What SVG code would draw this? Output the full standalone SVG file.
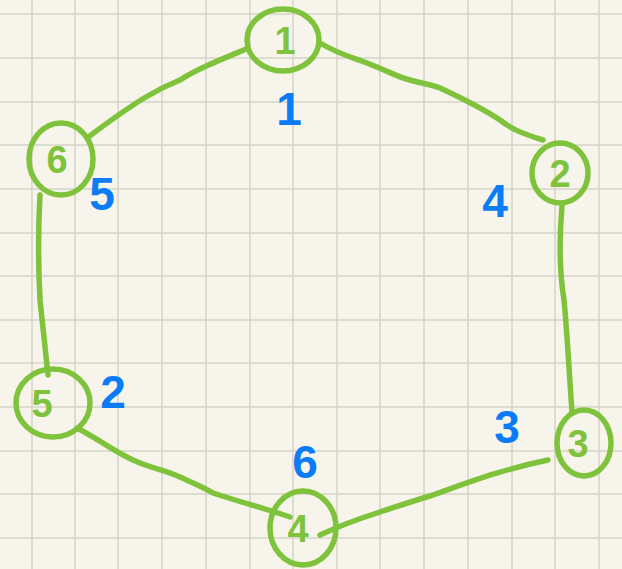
<svg xmlns="http://www.w3.org/2000/svg" width="622" height="569" viewBox="0 0 622 569">
<defs>
<style>
.grid line{stroke:#d5d3c8;stroke-width:1.5}
.edge{fill:none;stroke:#7fc23b;stroke-width:5.5;stroke-linecap:round;stroke-linejoin:round}
.ring{fill:none;stroke:#7fc23b;stroke-width:5.5}
.nlab{font-family:"Liberation Sans",Arial,sans-serif;font-size:38px;font-weight:bold;fill:#7fc23b;text-anchor:middle}
.elab{font-family:"Liberation Sans",Arial,sans-serif;font-size:46px;font-weight:bold;fill:#0a7cf7;text-anchor:middle}
</style>
</defs>
<rect width="622" height="569" fill="#f7f5eb"/>
<g class="grid">
<line x1="32" y1="0" x2="32" y2="569"/><line x1="75" y1="0" x2="75" y2="569"/><line x1="118" y1="0" x2="118" y2="569"/><line x1="162" y1="0" x2="162" y2="569"/><line x1="206" y1="0" x2="206" y2="569"/><line x1="250" y1="0" x2="250" y2="569"/><line x1="293" y1="0" x2="293" y2="569"/><line x1="337" y1="0" x2="337" y2="569"/><line x1="380" y1="0" x2="380" y2="569"/><line x1="424" y1="0" x2="424" y2="569"/><line x1="468" y1="0" x2="468" y2="569"/><line x1="512" y1="0" x2="512" y2="569"/><line x1="555" y1="0" x2="555" y2="569"/><line x1="599" y1="0" x2="599" y2="569"/>
<line x1="0" y1="14" x2="622" y2="14"/><line x1="0" y1="58" x2="622" y2="58"/><line x1="0" y1="102" x2="622" y2="102"/><line x1="0" y1="145" x2="622" y2="145"/><line x1="0" y1="189" x2="622" y2="189"/><line x1="0" y1="233" x2="622" y2="233"/><line x1="0" y1="276" x2="622" y2="276"/><line x1="0" y1="320" x2="622" y2="320"/><line x1="0" y1="363" x2="622" y2="363"/><line x1="0" y1="407" x2="622" y2="407"/><line x1="0" y1="451" x2="622" y2="451"/><line x1="0" y1="494" x2="622" y2="494"/><line x1="0" y1="538" x2="622" y2="538"/>
</g>
<g id="connectors">
<path class="edge" d="M246 49 C215 62 195 70 180 80 C160 88 140 98 87 138"/>
<path class="edge" d="M320 43 C340 55 355 58 367 63 C390 72 400 78 410 80 C425 84 432 85 440 88 C470 102 488 112 500 120 C510 128 520 133 543 140"/>
<path class="edge" d="M562 206 C559 240 560 275 564 300 C567 330 569 370 572 412"/>
<path class="edge" d="M548 460 C500 470 470 482 433 495 C410 502 395 507 377 513 C355 520 335 528 320 535"/>
<path class="edge" d="M77 428 C100 440 115 452 133 460 C150 468 165 470 180 477 C195 484 205 488 213 493 C240 502 270 510 290 517"/>
<path class="edge" d="M40 195 C38 230 38 260 40 300 C43 330 46 355 48 375"/>
</g>
<g id="node1"><ellipse class="ring" cx="283" cy="40" rx="36" ry="31"/><text class="nlab" x="285" y="54">1</text></g>
<g id="node2"><ellipse class="ring" cx="560" cy="173" rx="28" ry="30"/><text class="nlab" x="560" y="187">2</text></g>
<g id="node3"><ellipse class="ring" cx="584" cy="443" rx="27" ry="33"/><text class="nlab" x="578" y="457">3</text></g>
<g id="node4"><ellipse class="ring" cx="303" cy="528" rx="33" ry="37"/><text class="nlab" x="298" y="542">4</text></g>
<g id="node5"><ellipse class="ring" cx="53" cy="403" rx="37" ry="34"/><text class="nlab" x="42" y="417">5</text></g>
<g id="node6"><ellipse class="ring" cx="61" cy="159" rx="32" ry="36"/><text class="nlab" x="57" y="173">6</text></g>
<g id="edge-labels">
<text class="elab" x="289" y="125">1</text>
<text class="elab" x="102" y="210">5</text>
<text class="elab" x="495" y="217">4</text>
<text class="elab" x="113" y="408">2</text>
<text class="elab" x="507" y="443">3</text>
<text class="elab" x="305" y="478">6</text>
</g>
</svg>
